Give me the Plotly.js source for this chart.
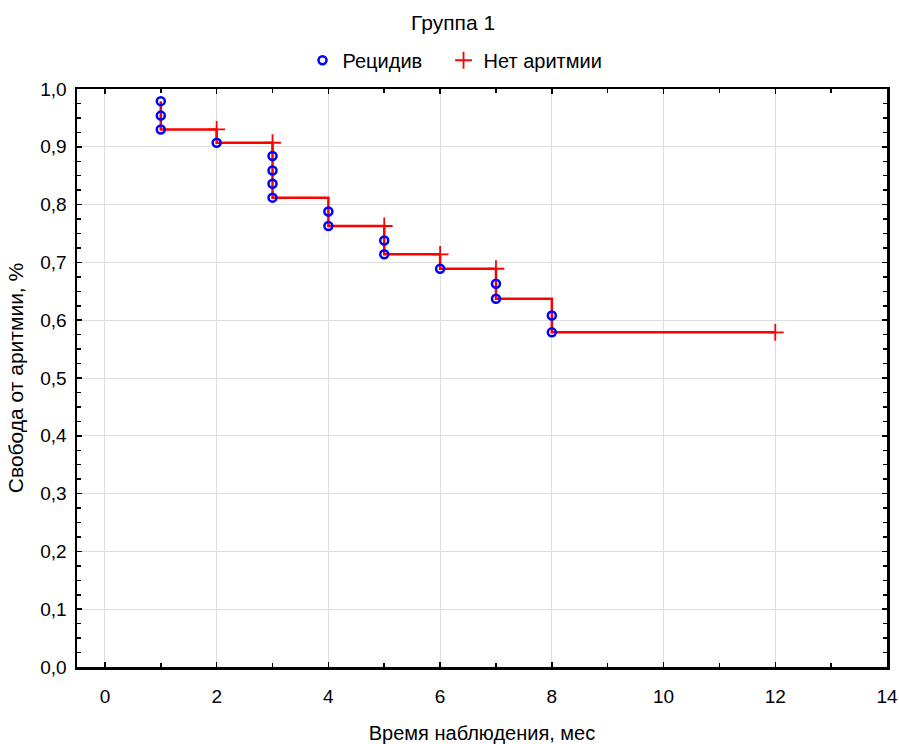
<!DOCTYPE html>
<html>
<head>
<meta charset="utf-8">
<script src="https://cdn.plot.ly/plotly-3.0.1.min.js"></script>
<style>html,body{margin:0;padding:0;background:#fff;}#chart{width:899px;height:744px;}</style>
</head>
<body>
<div id="chart"></div>
<script>
// Event times (relapses) and survival after each event
const eventTime = [1, 1, 1, 2, 3, 3, 3, 3, 4, 4, 5, 5, 6, 7, 7, 8, 8];
const eventSurv = [0.979, 0.954, 0.930, 0.907, 0.884, 0.859, 0.836, 0.812, 0.788, 0.763, 0.738, 0.714, 0.689, 0.663, 0.637, 0.608, 0.579];
// Censored observations (no arrhythmia)
const censTime = [2, 3, 5, 6, 7, 12];
const censSurv = [0.930, 0.907, 0.763, 0.714, 0.689, 0.579];

const xTicks = [0, 2, 4, 6, 8, 10, 12, 14];
const yTicks = [0, 0.1, 0.2, 0.3, 0.4, 0.5, 0.6, 0.7, 0.8, 0.9, 1.0];
const yTickText = ['0,0', '0,1', '0,2', '0,3', '0,4', '0,5', '0,6', '0,7', '0,8', '0,9', '1,0'];

const titleText = 'Группа 1';
const xTitle = 'Время наблюдения, мес';
const yTitle = 'Свобода от аритмии, %';
const seriesNames = ['Рецидив', 'Нет аритмии'];

// step curve built from the data arrays
const stepX = eventTime.concat([censTime[censTime.length - 1]]);
const stepY = eventSurv.concat([censSurv[censSurv.length - 1]]);

const FONT = 'Liberation Sans, Arial, sans-serif';

const traces = [
  {
    x: stepX, y: stepY, mode: 'lines', line: {shape: 'hv', color: '#ff0000', width: 2.5},
    showlegend: false, hoverinfo: 'skip'
  },
  {
    x: eventTime, y: eventSurv, mode: 'markers', name: seriesNames[0], legend: 'legend',
    marker: {symbol: 'circle-open', size: 8, color: '#0000ff', line: {color: '#0000ff', width: 2.5}}
  },
  {
    x: censTime, y: censSurv, mode: 'markers', name: seriesNames[1], legend: 'legend2',
    marker: {symbol: 'cross-thin-open', size: 12, color: '#ff0000', line: {color: '#ff0000', width: 1.8}}
  }
];

const legendBase = {orientation: 'h', xref: 'paper', xanchor: 'left', yref: 'container', y: 0.919, yanchor: 'middle',
  font: {family: FONT, size: 20, color: '#000'}, bgcolor: 'rgba(0,0,0,0)'};

const layout = {
  width: 899, height: 744,
  margin: {l: 77, r: 12, t: 89, b: 77},
  paper_bgcolor: '#ffffff', plot_bgcolor: '#ffffff',
  font: {family: FONT, size: 19, color: '#000000'},
  title: {text: titleText, font: {family: FONT, size: 21, color: '#000'}, xref: 'container', x: 0.504, xanchor: 'center', yref: 'container', y: 0.969, yanchor: 'middle'},
  showlegend: true,
  legend: Object.assign({}, legendBase, {x: 0.2784}),
  legend2: Object.assign({}, legendBase, {x: 0.4525}),
  xaxis: {
    range: [-0.5, 14], tickvals: xTicks, ticktext: xTicks.map(String),
    showline: true, linecolor: '#000', linewidth: 2.5, mirror: 'ticks',
    ticks: 'inside', ticklen: 5, tickwidth: 1.5, tickcolor: '#000',
    minor: {dtick: 1, ticks: 'inside', ticklen: 4, tickwidth: 1.5, tickcolor: '#000', showgrid: false},
    showgrid: true, gridcolor: '#dedede', gridwidth: 1, zeroline: false,
    ticklabelstandoff: 11,
    tickfont: {family: FONT, size: 19},
    title: {text: xTitle, font: {family: FONT, size: 20}, standoff: 32}
  },
  yaxis: {
    range: [0, 1], tickvals: yTicks, ticktext: yTickText,
    showline: true, linecolor: '#000', linewidth: 2.5, mirror: 'ticks',
    ticks: 'inside', ticklen: 5, tickwidth: 1.5, tickcolor: '#000',
    minor: {dtick: 0.025, tick0: 0, ticks: 'inside', ticklen: 4, tickwidth: 1.5, tickcolor: '#000', showgrid: false},
    showgrid: true, gridcolor: '#dedede', gridwidth: 1, zeroline: false,
    ticklabelstandoff: 4,
    tickfont: {family: FONT, size: 19},
    title: {text: yTitle, font: {family: FONT, size: 21}, standoff: 11}
  }
};

Plotly.newPlot('chart', traces, layout, {displayModeBar: false, staticPlot: true});
</script>
</body>
</html>
